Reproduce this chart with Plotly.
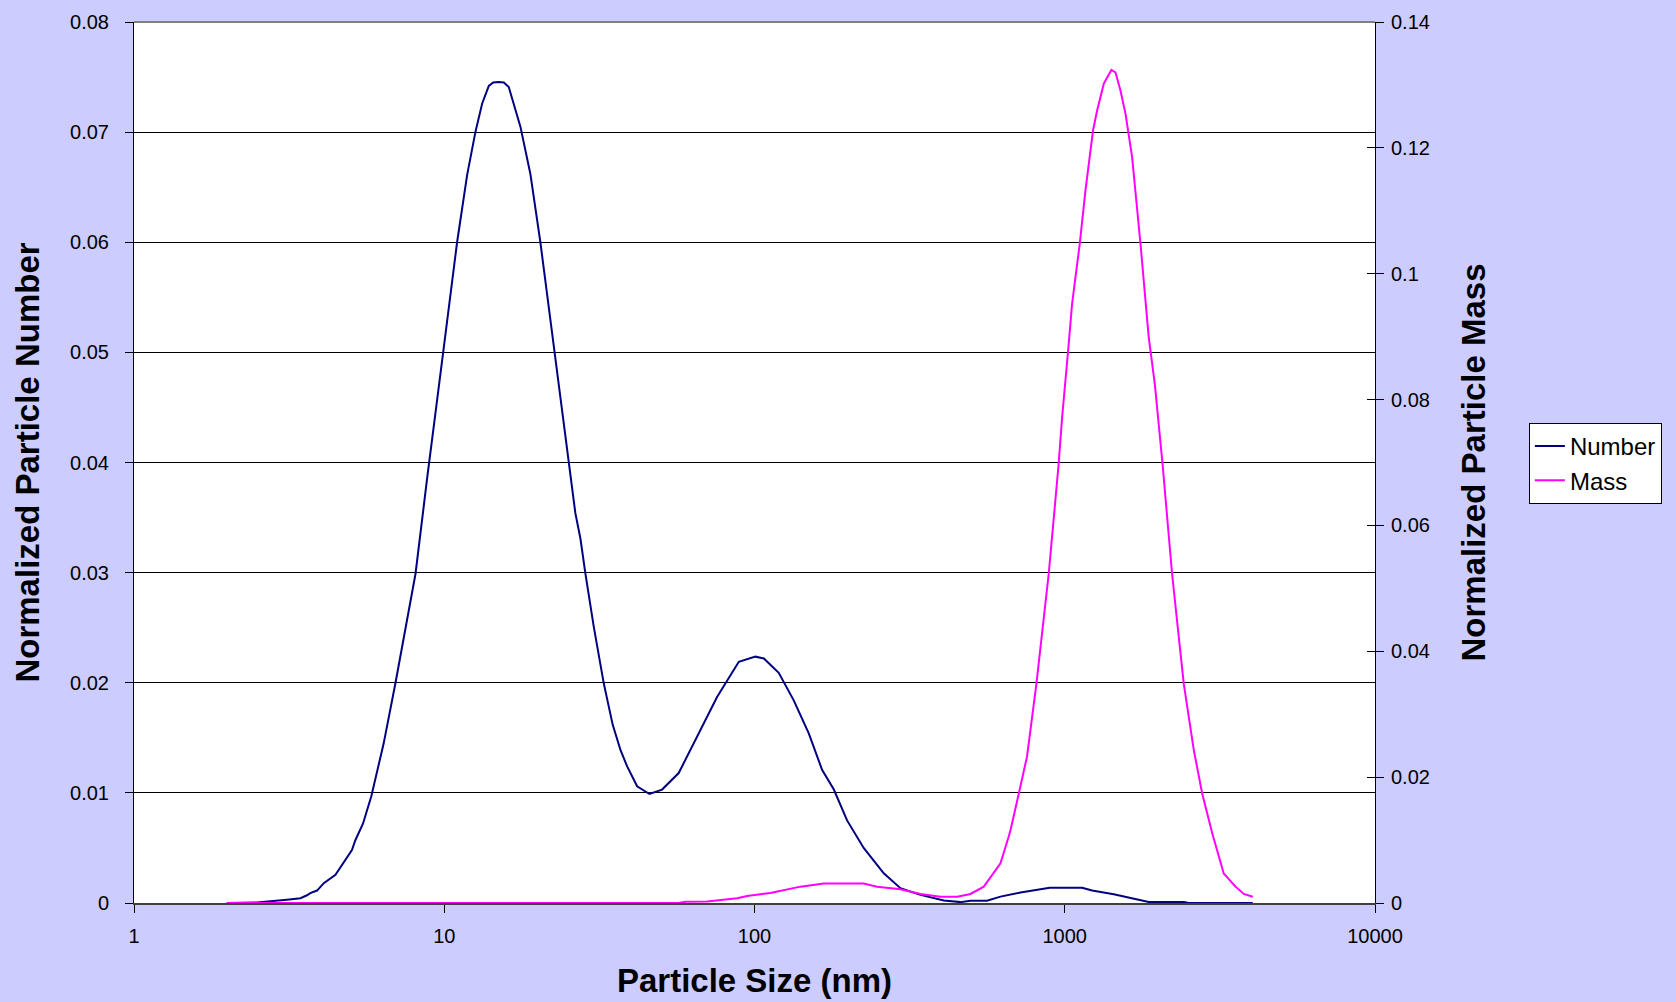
import plotly.graph_objects as go

# ---------------- data ----------------
number_size_nm = [1.99, 2.49, 3.11, 3.44, 3.61, 3.70, 3.89, 4.09, 4.46, 4.80, 5.04, 5.17,
                  5.47, 5.82, 6.38, 6.96, 8.08, 8.81, 9.03, 9.37, 9.92, 10.47, 11.00,
                  11.85, 12.60, 13.25, 13.92, 14.38, 14.98, 15.56, 16.14, 17.60, 18.95,
                  20.41, 21.46, 22.65, 23.98, 25.51, 26.46, 27.47, 28.51, 30.33, 32.67,
                  34.9, 36.98, 38.86, 41.85, 45.85, 50.35, 56.98, 65.31, 75.74, 89.0,
                  100.7, 107.2, 119.7, 133.8, 149.6, 165.1, 180.2, 198.8, 224.9, 261.0,
                  295.4, 342.8, 407.6, 461.3, 496.6, 561.5, 620.6, 719.8, 794.7, 894.4,
                  1137.6, 1225.5, 1438.8, 1864.9, 2418.5, 2510, 4036]
number_values = [0, 0.00005, 0.0003, 0.00044, 0.0007, 0.0009, 0.00113, 0.0018, 0.00256,
                 0.0039, 0.0048, 0.0057, 0.0072, 0.0097, 0.0145, 0.01995, 0.0299, 0.0386,
                 0.0411, 0.0445, 0.0500, 0.0553, 0.0600, 0.0661, 0.0700, 0.0726, 0.0742,
                 0.0745, 0.07455, 0.0745, 0.0741, 0.0705, 0.0662, 0.0600, 0.0553, 0.0500,
                 0.0445, 0.0386, 0.0354, 0.0331, 0.0299, 0.0251, 0.01995, 0.0162, 0.0139,
                 0.0124, 0.0106, 0.0099, 0.0103, 0.0118, 0.0151, 0.0187, 0.0219, 0.02237,
                 0.0222, 0.0209, 0.0184, 0.0154, 0.0121, 0.0103, 0.0075, 0.0050, 0.0027,
                 0.00135, 0.00074, 0.00022, 0.00008, 0.0002, 0.0002, 0.00058, 0.00095,
                 0.00113, 0.00138, 0.00138, 0.00113, 0.0008, 0.0001, 0.0001, 0, 0]

mass_size_nm = [1.99, 56.98, 59.9, 70.4, 87.9, 94.7, 112.5, 140.7, 167.2, 224.9, 248.5,
                295.4, 342.8, 397.7, 450.1, 496.6, 548.3, 620.6, 660.2, 668.7, 711.2,
                756.0, 810.6, 888.2, 955, 980.8, 1025.4, 1056, 1118, 1166, 1234, 1271,
                1336, 1414, 1457, 1512, 1570, 1649, 1754, 1865, 1951, 2068, 2217, 2418,
                2606, 2773, 2988, 3254, 3552, 3776, 4036]
mass_values = [0, 0, 0.0002, 0.00024, 0.00076, 0.0011, 0.0016, 0.0026, 0.0031, 0.0031,
               0.0026, 0.0022, 0.00144, 0.0010, 0.0010, 0.00144, 0.0026, 0.0063, 0.0106,
               0.0116, 0.0174, 0.0233, 0.0349, 0.0524, 0.0696, 0.0772, 0.0878, 0.0952,
               0.1048, 0.1132, 0.1228, 0.1259, 0.1302, 0.1324, 0.1320, 0.1291, 0.1254,
               0.1185, 0.1048, 0.0899, 0.0825, 0.0696, 0.0524, 0.0349, 0.0243, 0.0174,
               0.0111, 0.0047, 0.0026, 0.00144, 0.0010]

x_tick_vals = [1, 10, 100, 1000, 10000]
x_tick_text = ["1", "10", "100", "1000", "10000"]
left_tick_vals = [0, 0.01, 0.02, 0.03, 0.04, 0.05, 0.06, 0.07, 0.08]
left_tick_text = ["0", "0.01", "0.02", "0.03", "0.04", "0.05", "0.06", "0.07", "0.08"]
right_tick_vals = [0, 0.02, 0.04, 0.06, 0.08, 0.10, 0.12, 0.14]
right_tick_text = ["0", "0.02", "0.04", "0.06", "0.08", "0.1", "0.12", "0.14"]

# ---------------- figure ----------------
FONT = "Liberation Sans, Arial, sans-serif"
BG = "#CCCCFF"

fig = go.Figure()
fig.add_trace(go.Scatter(x=number_size_nm, y=number_values, name="Number",
                         mode="lines", line=dict(color="#000080", width=2), yaxis="y"))
fig.add_trace(go.Scatter(x=mass_size_nm, y=mass_values, name="Mass",
                         mode="lines", line=dict(color="#FF00FF", width=2), yaxis="y2"))
# empty helper trace so the inward right-hand tick marks get drawn
fig.add_trace(go.Scatter(x=[None], y=[None], yaxis="y3", showlegend=False,
                         hoverinfo="skip"))

tickfont = dict(family=FONT, size=20, color="black")
titlefont = dict(family=FONT, size=33, color="black", weight="bold")

fig.update_layout(
    width=1676, height=1002,
    paper_bgcolor=BG, plot_bgcolor="white",
    margin=dict(l=134, r=301, t=22, b=99, autoexpand=False),
    showlegend=True,
    legend=dict(x=1.124, y=0.545, xanchor="left", yanchor="top",
                bgcolor="white", bordercolor="black", borderwidth=1,
                font=dict(family=FONT, size=24, color="black"),
                tracegroupgap=0),
    xaxis=dict(type="log", range=[0, 4], tickvals=x_tick_vals, ticktext=x_tick_text,
               showgrid=False, zeroline=False, showline=True, linecolor="#404040",
               linewidth=2, ticks="outside", ticklen=8, tickcolor="black",
               tickfont=tickfont, ticklabelstandoff=6,
               title=dict(text="Particle Size (nm)", font=titlefont, standoff=23)),
    yaxis=dict(range=[0, 0.08], tickvals=left_tick_vals, ticktext=left_tick_text,
               showgrid=True, gridcolor="black", gridwidth=1, zeroline=False,
               showline=True, linecolor="black", linewidth=1,
               ticks="outside", ticklen=8, tickcolor="black",
               tickfont=tickfont, ticklabelstandoff=12,
               title=dict(text="Normalized Particle Number", font=titlefont, standoff=20)),
    yaxis2=dict(range=[0, 0.14], tickvals=right_tick_vals, ticktext=right_tick_text,
                overlaying="y", side="right", anchor="x",
                showgrid=False, zeroline=False,
                showline=True, linecolor="black", linewidth=1,
                ticks="outside", ticklen=8, tickcolor="black",
                tickfont=tickfont, ticklabelstandoff=3,
                title=dict(text="Normalized Particle Mass", font=titlefont, standoff=32)),
    yaxis3=dict(range=[0, 0.14], tickvals=right_tick_vals,
                overlaying="y", side="right", anchor="x",
                showgrid=False, zeroline=False, showline=False,
                ticks="inside", ticklen=8, tickcolor="black",
                showticklabels=False),
    shapes=[dict(type="line", xref="paper", yref="paper", x0=0, x1=1, y0=1, y1=1,
                 line=dict(color="#808080", width=2), layer="above")],
)

fig.write_html("out.html",
               config={"displayModeBar": False},
               post_script="document.body.style.margin='0';"
                           "document.body.style.overflow='hidden';")
